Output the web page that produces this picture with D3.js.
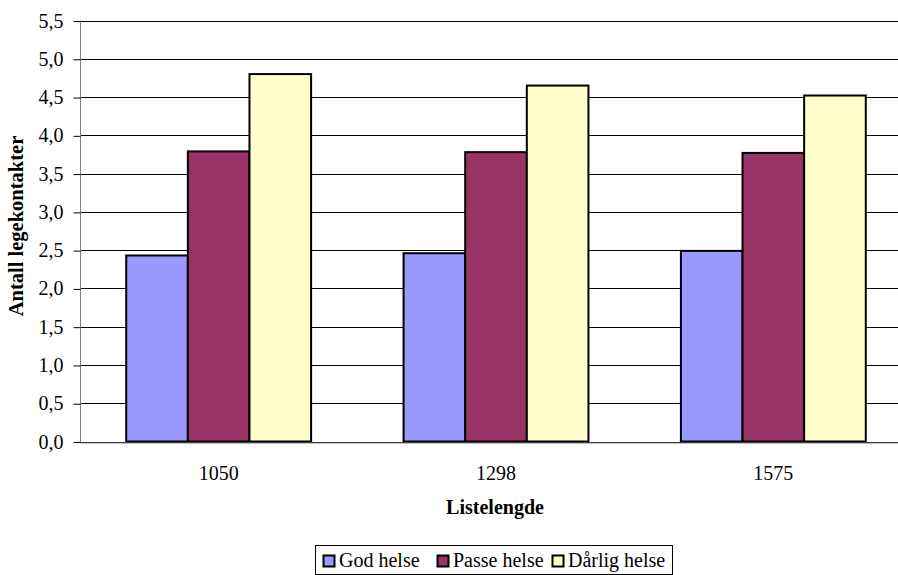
<!DOCTYPE html>
<html>
<head>
<meta charset="utf-8">
<script src="https://cdn.jsdelivr.net/npm/d3@7"></script>
<style>
  html, body { margin: 0; padding: 0; background: #fff; }
  svg { display: block; }
  text { font-family: "Liberation Serif", "Times New Roman", serif; fill: #000; }
</style>
</head>
<body>
<svg id="chart" width="898" height="575"></svg>
<script>
// Listelengde (category) and average number of GP contacts per health group
const categories = ["1050", "1298", "1575"];
const seriesNames = ["God helse", "Passe helse", "Dårlig helse"];
const godHelse = [2.43, 2.46, 2.49];
const passeHelse = [3.79, 3.78, 3.77];
const darligHelse = [4.80, 4.65, 4.52];
const yTicks = [0, 0.5, 1, 1.5, 2, 2.5, 3, 3.5, 4, 4.5, 5, 5.5];
const colors = ["#9999FF", "#993366", "#FFFFCC"];

const seriesValues = [godHelse, passeHelse, darligHelse];
const FONT = "'Liberation Serif', 'Times New Roman', serif";

const svg = d3.select("#chart");
const plot = { left: 80, top: 20.5, right: 912, bottom: 441.5 };

const x = d3.scaleBand()
  .domain(categories)
  .range([plot.left, plot.right]);

// three bars per group with a gap of 1.5 bar widths between groups
const inner = d3.scaleBand()
  .domain(d3.range(seriesNames.length))
  .range([0, x.bandwidth()])
  .paddingInner(0)
  .paddingOuter(0.75);

const y = d3.scaleLinear()
  .domain([0, 5.5])
  .range([plot.bottom, plot.top]);

// horizontal gridlines
svg.append("g")
  .selectAll("line")
  .data(yTicks)
  .join("line")
  .attr("x1", plot.left)
  .attr("x2", plot.right)
  .attr("y1", d => Math.round(y(d)) + 0.5)
  .attr("y2", d => Math.round(y(d)) + 0.5)
  .attr("stroke", "#000")
  .attr("stroke-width", 1);

// bars
const groups = svg.append("g")
  .selectAll("g")
  .data(categories)
  .join("g")
  .attr("transform", d => `translate(${x(d)},0)`);

groups.selectAll("rect")
  .data((c, ci) => seriesValues.map((vals, si) => ({ si, v: vals[ci] })))
  .join("rect")
  .attr("x", d => inner(d.si))
  .attr("width", inner.bandwidth())
  .attr("y", d => y(d.v))
  .attr("height", d => y(0) - y(d.v))
  .attr("fill", d => colors[d.si])
  .attr("stroke", "#000")
  .attr("stroke-width", 2);

// y axis
const yAxis = d3.axisLeft(y)
  .tickValues(yTicks)
  .tickSize(7)
  .tickPadding(10)
  .tickFormat(d => d3.format(".1f")(d).replace(".", ","));

const yg = svg.append("g")
  .attr("transform", `translate(${plot.left + 0.5},0.5)`)
  .call(yAxis);
yg.select(".domain").attr("stroke", "#808080").attr("d", `M0,${plot.top - 0.5}V${plot.bottom}`);
yg.selectAll(".tick line").attr("stroke", "#000");
yg.selectAll(".tick text")
  .style("font-family", FONT)
  .style("font-size", "20px")
  .attr("dy", "0.3em");

// x axis baseline and labels
const xAxis = d3.axisBottom(x).tickSize(0).tickPadding(23);
const xg = svg.append("g")
  .attr("transform", `translate(0,${Math.round(plot.bottom) + 0.5})`)
  .call(xAxis);
xg.select(".domain").attr("stroke", "#808080");
xg.selectAll(".tick text")
  .style("font-family", FONT)
  .style("font-size", "20px");

// axis titles
svg.append("text")
  .attr("x", 495)
  .attr("y", 514)
  .attr("text-anchor", "middle")
  .style("font-size", "20px")
  .style("font-weight", "bold")
  .text("Listelengde");

svg.append("text")
  .attr("transform", "translate(23,226) rotate(-90)")
  .attr("text-anchor", "middle")
  .style("font-size", "20.5px")
  .style("font-weight", "bold")
  .text("Antall legekontakter");

// legend
const legend = svg.append("g");
legend.append("rect")
  .attr("x", 315.5).attr("y", 545.5)
  .attr("width", 357).attr("height", 29)
  .attr("fill", "#fff").attr("stroke", "#000").attr("stroke-width", 1);

const legendX = [322, 436, 551];
const items = legend.selectAll("g.item")
  .data(seriesNames)
  .join("g")
  .attr("class", "item")
  .attr("transform", (d, i) => `translate(${legendX[i]},554)`);
items.append("rect")
  .attr("x", 1.5).attr("y", 1.5)
  .attr("width", 11).attr("height", 11)
  .attr("fill", (d, i) => colors[i])
  .attr("stroke", "#000").attr("stroke-width", 2);
items.append("text")
  .attr("x", 17).attr("y", 12.5)
  .style("font-size", "20px")
  .text(d => d);
</script>
</body>
</html>
